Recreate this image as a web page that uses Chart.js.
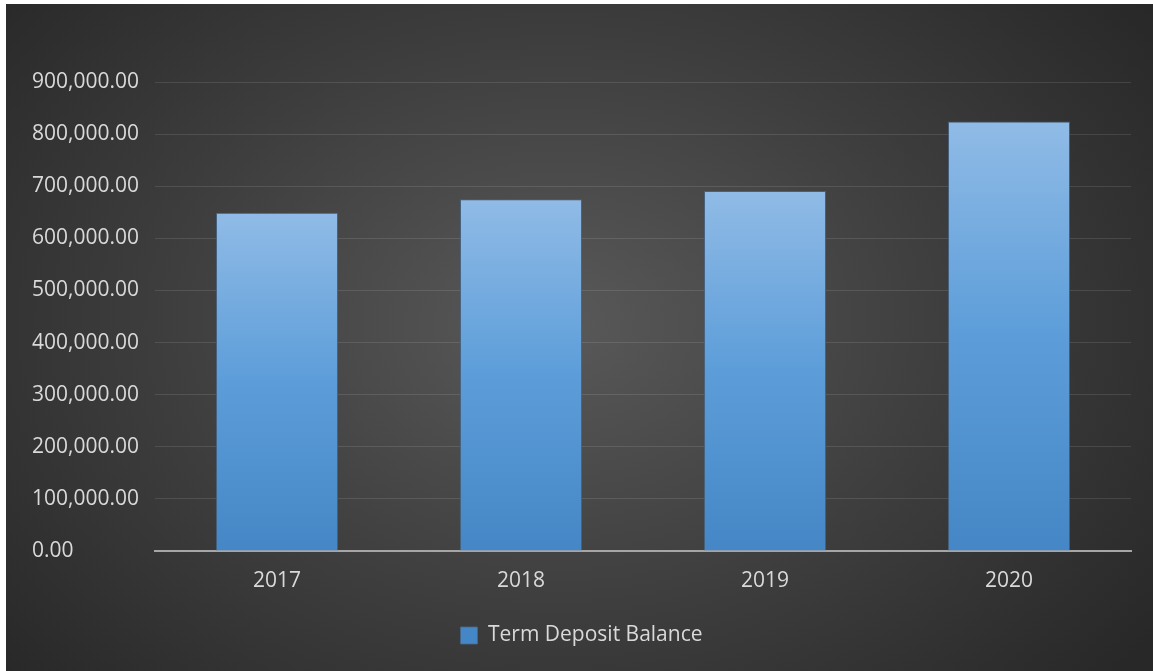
<!DOCTYPE html>
<html>
<head>
<meta charset="utf-8">
<title>Term Deposit Balance</title>
<script src="https://cdn.jsdelivr.net/npm/chart.js@4/dist/chart.umd.min.js"></script>
<style>
  html, body { margin: 0; padding: 0; background: #ffffff; }
  #frame {
    position: absolute; left: 6px; top: 4px;
    width: 1147px; height: 667px;
    background: radial-gradient(ellipse 64% 80% at 48% 48%, #595959 0%, #3d3d3d 55%, #282828 100%);
  }
  canvas { display: block; }
</style>
</head>
<body>
<div id="frame"><canvas id="chart" width="1147" height="667"></canvas></div>
<script>
// Yearly term deposit balances
const years = ['2017', '2018', '2019', '2020'];
const balances = [649000, 675000, 691000, 824000];
const seriesName = 'Term Deposit Balance';

const labelColor = '#d9d9d9';
const fontFamily = '"Open Sans", "Segoe UI", sans-serif';
const fontSize = 21;

// Each bar gets its own light-to-deep blue gradient
function barFill(ctx) {
  if (ctx.type !== 'data') return '#5b9bd5';
  const chart = ctx.chart;
  if (!chart.chartArea) return '#5b9bd5';
  const yScale = chart.scales.y;
  const top = yScale.getPixelForValue(ctx.raw);
  const bottom = yScale.getPixelForValue(0);
  const g = chart.ctx.createLinearGradient(0, top, 0, bottom);
  g.addColorStop(0, '#90bbe6');
  g.addColorStop(0.5, '#5c9dd9');
  g.addColorStop(1, '#4587c6');
  return g;
}

const numberFmt = new Intl.NumberFormat('en-US', { minimumFractionDigits: 2, maximumFractionDigits: 2 });

new Chart(document.getElementById('chart'), {
  type: 'bar',
  data: {
    labels: years,
    datasets: [{
      label: seriesName,
      data: balances,
      backgroundColor: barFill,
      borderColor: 'rgba(70,105,140,0.8)',
      borderWidth: 1,
      borderSkipped: 'bottom',
      barPercentage: 0.5,
      categoryPercentage: 1.0
    }]
  },
  options: {
    responsive: false,
    animation: false,
    devicePixelRatio: 1,
    layout: { padding: { left: 26, right: 22, top: 78, bottom: 15 } },
    plugins: {
      tooltip: { enabled: false },
      legend: {
        position: 'bottom',
        labels: {
          color: labelColor,
          font: { family: fontFamily, size: fontSize },
          boxWidth: 17,
          boxHeight: 17,
          padding: 10
        }
      }
    },
    scales: {
      x: {
        grid: { display: false, drawTicks: false },
        border: { display: true, color: '#a6a6a6', width: 2 },
        ticks: { color: labelColor, font: { family: fontFamily, size: fontSize }, padding: 17 },
        afterFit(scale) { scale.height = 64; }
      },
      y: {
        min: 0,
        max: 900000,
        ticks: {
          stepSize: 100000,
          color: labelColor,
          font: { family: fontFamily, size: fontSize },
          padding: 14,
          crossAlign: 'far',
          callback: (v) => numberFmt.format(v)
        },
        grid: { color: 'rgba(255,255,255,0.11)', lineWidth: 1, drawTicks: false },
        border: { display: false },
        afterFit(scale) { scale.width = 123; }
      }
    }
  }
});
</script>
</body>
</html>
